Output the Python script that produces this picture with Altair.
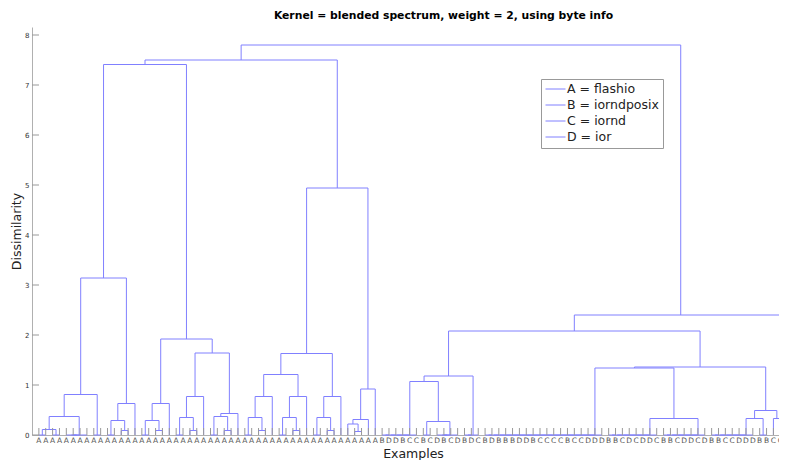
import altair as alt
import pandas as pd

BLUE = "#8080ff"
FONT = "DejaVu Sans"

# ---------------- data ----------------
leaf_labels = list("A" * 50 + "BDDBCCBCDBCDBDCBDBBBDDBCCCCBCCDDDBBCDCDDCBBCDDCDBBCCDDDBBCCD")
y_tick_values = [0, 1, 2, 3, 4, 5, 6, 7, 8]
legend_entries = ["A = flashio", "B = iorndposix", "C = iornd", "D = ior"]


def chain_left(lo, hi):
    node = lo
    for k in range(lo + 1, hi + 1):
        node = (0.0, node, k)
    return node


# nodes: (merge height, left, right); leaves: leaf index
group0 = (0.81, (0.37, (0.11, (0.0, 0, 1), (0.0, 2, 3)), (0.0, (0.0, 4, (0.0, 5, 6)), 7)), (0.0, 8, 9))
group1 = (0.63, (0.29, (0.0, 10, 11), (0.09, 12, 13)), 14)
group2 = (0.63, (0.29, (0.0, 15, 16), (0.09, 17, 18)), 19)
group3 = (0.77, (0.35, (0.0, 20, 21), (0.09, 22, 23)), 24)
group4 = (0.43, (0.37, (0.0, 25, 26), (0.09, 27, 28)), 29)
group5 = (0.77, (0.35, (0.0, 30, 31), (0.09, 32, 33)), 34)
group6 = (0.77, (0.35, (0.0, 35, 36), (0.09, 37, 38)), 39)
group7 = (0.77, (0.35, (0.0, 40, 41), (0.09, 42, 43)), 44)
group8 = (0.92, (0.31, (0.22, 45, (0.07, 46, 47)), 48), 49)

left_left = (7.41, (3.14, group0, group1), (1.92, group2, (1.64, group3, group4)))
left_right = (4.94, (1.63, (1.21, group5, group6), group7), group8)
left_tree = (7.50, left_left, left_right)

right_ll = (1.18,
            (1.07, chain_left(50, 55), (0.27, (0.0, 56, 57), (0.0, (0.0, 58, (0.0, 59, 60)), 61))),
            chain_left(62, 64))
right_lr = (1.36,
            (1.34, chain_left(65, 82), (0.33, chain_left(83, 90), chain_left(91, 97))),
            (0.49, (0.33, chain_left(98, 104), (0.0, 105, 106)), (0.33, 107, 108)))
right_tree = (2.40, (2.08, right_ll, right_lr), 109)

root = (7.80, left_tree, right_tree)

# ---------------- build link segments ----------------
segs = []


def walk(node):
    if isinstance(node, int):
        return float(node), 0.0
    h, l, r = node
    xl, hl = walk(l)
    xr, hr = walk(r)
    segs.append((xl, xl, hl, h))
    segs.append((xl, xr, h, h))
    segs.append((xr, xr, hr, h))
    return (xl + xr) / 2.0, h


walk(root)
links = pd.DataFrame(segs, columns=["x", "x2", "y", "y2"])
leaves = pd.DataFrame({"leaf": list(range(len(leaf_labels))), "label": leaf_labels})
yt = pd.DataFrame({"v": y_tick_values})
leg = pd.DataFrame({"entry": legend_entries})

W, H = 747, 408
xscale = alt.Scale(domain=[-1, 107.814], nice=False, zero=False)
yscale = alt.Scale(domain=[0, 8.16], nice=False, zero=False)

x_axis = alt.Axis(labels=False, ticks=False, grid=False, domainColor="#b0b0b0",
                  title="Examples", titleFont=FONT, titleFontSize=12.5, titleFontWeight="normal",
                  titleColor="#222", titleX=381, titleY=22, titleBaseline="alphabetic", titleAlign="center")
y_axis = alt.Axis(values=y_tick_values, ticks=False, tickSize=0, grid=False, domainColor="#b0b0b0",
                  labelFont=FONT, labelFontSize=7, labelColor="#333", labelPadding=3,
                  title="Dissimilarity", titleFont=FONT, titleFontSize=12.5, titleFontWeight="normal",
                  titleColor="#222", titleX=-12, titleY=204, titleAngle=270,
                  titleBaseline="alphabetic", titleAlign="center")

link_layer = alt.Chart(links).mark_rule(color=BLUE, strokeWidth=1, clip=False).encode(
    x=alt.X("x:Q", scale=xscale, axis=x_axis),
    x2="x2:Q",
    y=alt.Y("y:Q", scale=yscale, axis=y_axis),
    y2="y2:Q",
)

leaf_ticks = alt.Chart(leaves).mark_rule(color="#999999", strokeWidth=1, clip=False).encode(
    x=alt.X("leaf:Q", scale=xscale, axis=x_axis),
    y=alt.value(H),
    y2=alt.value(H - 7),
)

leaf_text = alt.Chart(leaves).mark_text(font=FONT, fontSize=7.5, color="#555", baseline="middle").encode(
    x=alt.X("leaf:Q", scale=xscale, axis=x_axis),
    y=alt.value(H + 6),
    text="label:N",
)

y_ticks = alt.Chart(yt).mark_rule(color="#999999", strokeWidth=1).encode(
    y=alt.Y("v:Q", scale=yscale, axis=y_axis),
    x=alt.value(0),
    x2=alt.value(7),
)

legend_layer = alt.Chart(leg).mark_rule(strokeWidth=1).encode(
    color=alt.Color("entry:N", scale=alt.Scale(domain=legend_entries, range=[BLUE] * 4),
                    legend=alt.Legend(orient="none", legendX=509, legendY=52, title=None,
                                      padding=4, fillColor="white", strokeColor="#999999",
                                      symbolType="stroke", symbolSize=400, symbolStrokeWidth=1,
                                      clipHeight=12, rowPadding=3.0,
                                      labelFont=FONT, labelFontSize=12.5, labelColor="#222",
                                      labelOffset=1)),
    x=alt.value(0), x2=alt.value(0), y=alt.value(0), y2=alt.value(0),
)

chart = alt.layer(link_layer, leaf_ticks, leaf_text, y_ticks, legend_layer).properties(
    width=W, height=H,
    autosize=alt.AutoSizeParams(type="none"),
    padding={"left": 24, "top": 19, "right": 0, "bottom": 33},
    title=alt.TitleParams("Kernel = blended spectrum, weight = 2, using byte info",
                          font=FONT, fontSize=10.8, fontWeight="bold", color="#000",
                          anchor="middle", dx=38, dy=9, offset=6, baseline="alphabetic"),
).configure_view(stroke="transparent")

chart.save("out.html", embed_options={"renderer": "svg", "actions": False})
